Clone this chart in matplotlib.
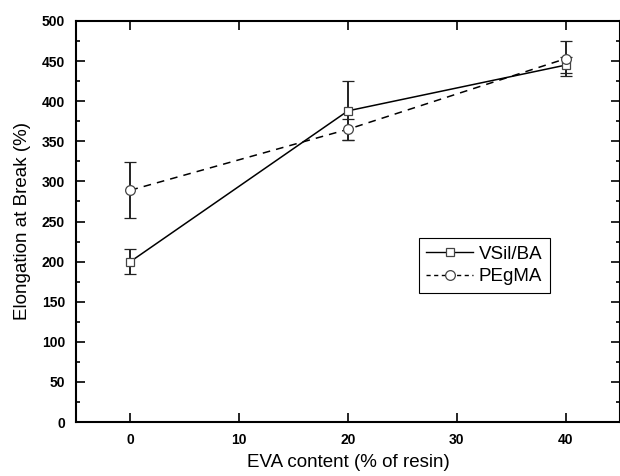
import numpy as np
import matplotlib
matplotlib.use('Agg')
import matplotlib.pyplot as plt
from matplotlib.ticker import MultipleLocator
from matplotlib.lines import Line2D

plt.rcParams['font.family'] = ['Liberation Sans', 'DejaVu Sans']

eva = [0, 20, 40]
vsil = [200, 388, 445]
vsil_err = [16, 37, 10]
pegma = [289, 365, 453]
pegma_err = [35, 13, 22]

fig = plt.figure(figsize=(6.2, 4.76), dpi=100)
ax = fig.add_axes([76/620, 54/476, 544/620, 401/476])

sq = dict(marker='s', ms=6, mfc='white', mec='#444444', mew=0.9)
ci = dict(marker='o', ms=7, mfc='white', mec='#444444', mew=0.9)
ax.errorbar(eva, vsil, yerr=vsil_err, color='black', lw=1.1, ls='-',
            ecolor='#222222', elinewidth=1.4, capsize=4, capthick=1.3, **sq)
ax.errorbar(eva, pegma, yerr=pegma_err, color='black', lw=1.1, ls=(0, (5, 4)),
            ecolor='#222222', elinewidth=1.4, capsize=4, capthick=1.3, **ci)

ax.set_xlim(-5, 45)
ax.set_ylim(0, 500)
ax.xaxis.set_major_locator(MultipleLocator(10))
ax.yaxis.set_major_locator(MultipleLocator(50))
ax.yaxis.set_minor_locator(MultipleLocator(25))
ax.tick_params(which='both', direction='in', top=True, right=True, width=1.2)
ax.tick_params(which='major', length=6.5, labelsize=10, pad=8)
ax.tick_params(which='minor', length=3)
for lab in ax.get_xticklabels() + ax.get_yticklabels():
    lab.set_fontweight('bold')
for s in ax.spines.values():
    s.set_linewidth(1.5)

ax.set_xlabel('EVA content (% of resin)', fontsize=13.5, labelpad=5)
ax.set_ylabel('Elongation at Break (%)', fontsize=13.5, labelpad=8)

handles = [Line2D([], [], color='black', lw=1.0, ls='-', **sq),
           Line2D([], [], color='black', lw=1.0, ls=(0, (3, 2.5)), **ci)]
leg = ax.legend(handles, ['VSil/BA', 'PEgMA'], loc='upper left',
                bbox_to_anchor=(0.63, 0.459), borderaxespad=0,
                fontsize=13.5, fancybox=False, edgecolor='black', framealpha=1,
                handlelength=2.5, handletextpad=0.3, borderpad=0.4, labelspacing=0.3)
leg.get_frame().set_linewidth(0.8)

fig.savefig('out.png', dpi=100)
